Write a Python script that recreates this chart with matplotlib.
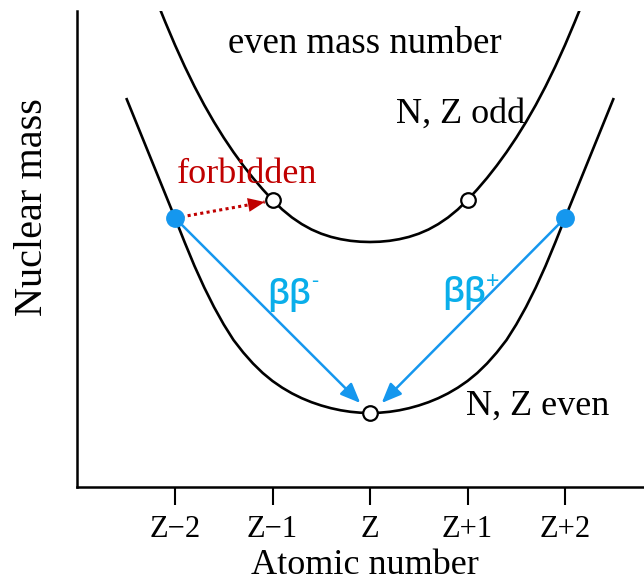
import matplotlib
matplotlib.use("Agg")
import matplotlib.pyplot as plt

# ---------------- data ----------------
tick_pos = [-2, -1, 0, 1, 2]
tick_labels = ["Z\u22122", "Z\u22121", "Z", "Z+1", "Z+2"]

# even-even parabola (N, Z even)
even_z = [-2.5, -2.4, -2.3, -2.2, -2.1, -2.0, -1.9, -1.8, -1.7, -1.6, -1.5,
          -1.4, -1.3, -1.2, -1.1, -1.0, -0.9, -0.8, -0.7, -0.6, -0.5, -0.4,
          -0.3, -0.2, -0.1, 0.0, 0.1, 0.2, 0.3, 0.4, 0.5, 0.6, 0.7, 0.8, 0.9,
          1.0, 1.1, 1.2, 1.3, 1.4, 1.5, 1.6, 1.7, 1.8, 1.9, 2.0, 2.1, 2.2,
          2.3, 2.4, 2.5]
even_m = [3.89, 3.65, 3.41, 3.17, 2.93, 2.69, 2.445, 2.21, 1.995, 1.80, 1.625,
          1.47, 1.345, 1.235, 1.14, 1.06, 0.993, 0.936, 0.888, 0.848, 0.815,
          0.788, 0.767, 0.752, 0.743, 0.74, 0.743, 0.752, 0.767, 0.788, 0.815,
          0.848, 0.888, 0.936, 0.993, 1.06, 1.14, 1.235, 1.345, 1.47, 1.625,
          1.80, 1.995, 2.21, 2.445, 2.69, 2.93, 3.17, 3.41, 3.65, 3.89]

# odd-odd parabola (N, Z odd)
odd_z = [-2.15, -2.1, -2.0, -1.9, -1.8, -1.7, -1.6, -1.5, -1.4, -1.3, -1.2,
         -1.1, -1.0, -0.9, -0.8, -0.7, -0.6, -0.5, -0.4, -0.3, -0.2, -0.1,
         0.0, 0.1, 0.2, 0.3, 0.4, 0.5, 0.6, 0.7, 0.8, 0.9, 1.0, 1.1, 1.2,
         1.3, 1.4, 1.5, 1.6, 1.7, 1.8, 1.9, 2.0, 2.1, 2.15]
odd_m = [4.77, 4.65, 4.42, 4.205, 4.005, 3.82, 3.65, 3.493, 3.348, 3.214,
         3.09, 2.976, 2.87, 2.775, 2.695, 2.629, 2.575, 2.533, 2.501, 2.478,
         2.462, 2.453, 2.45, 2.453, 2.462, 2.478, 2.501, 2.533, 2.575, 2.629,
         2.695, 2.775, 2.87, 2.976, 3.09, 3.214, 3.348, 3.493, 3.65, 3.82,
         4.005, 4.205, 4.42, 4.65, 4.77]

# nuclides marked on the curves
open_z = [-1, 1, 0]
open_m = [2.87, 2.87, 0.74]
filled_z = [-2, 2]
filled_m = [2.69, 2.69]

# decay arrows: (start Z, start M) -> (end Z, end M)
bb_minus = ((-2, 2.69), (-0.10, 0.84))
bb_plus = ((2, 2.69), (0.12, 0.84))
forbidden = ((-2, 2.69), (-1.08, 2.85))

# ---------------- figure ----------------
W, H, DPI = 644, 584, 100
fig = plt.figure(figsize=(W / DPI, H / DPI), dpi=DPI)
ax = fig.add_axes([77 / W, (584 - 487) / H, (644 - 77) / W, (487 - 11) / H])
ax.set_xlim(-3.005, 2.81)
ax.set_ylim(0, 4.76)

serif = "Liberation Serif"
sans = ["Open Sans", "DejaVu Sans"]
black = "black"
blue = "#1597ee"
blue_txt = "#0aaeea"
red = "#c00000"

ax.plot(even_z, even_m, color=black, lw=1.9, solid_capstyle="butt",
        solid_joinstyle="round", zorder=2)
ax.plot(odd_z, odd_m, color=black, lw=1.9, solid_capstyle="butt",
        solid_joinstyle="round", zorder=2)

# arrows
for (s, e) in (bb_minus, bb_plus):
    ax.annotate("", xy=e, xytext=s,
                arrowprops=dict(arrowstyle="-|>,head_length=0.6,head_width=0.25",
                                color=blue, lw=1.8, mutation_scale=20,
                                shrinkA=0, shrinkB=0), zorder=3)

(fs, fe) = forbidden
ax.plot([fs[0], fe[0]], [fs[1], fe[1]], color=red, lw=2.2,
        linestyle=(0, (1, 1.1)), zorder=3)
ax.annotate("", xy=fe, xytext=(fe[0] - 0.15, fe[1] - 0.026),
            arrowprops=dict(arrowstyle="-|>,head_length=0.6,head_width=0.25",
                            color=red, lw=0.01, mutation_scale=20,
                            shrinkA=0, shrinkB=0), zorder=3)

ax.plot(open_z, open_m, linestyle="none", marker="o", markersize=10.5,
        markerfacecolor="white", markeredgecolor=black, markeredgewidth=1.6,
        zorder=5)
ax.plot(filled_z, filled_m, linestyle="none", marker="o", markersize=12.5,
        markerfacecolor=blue, markeredgecolor=blue, zorder=5)

# spines and ticks
for side in ("top", "right"):
    ax.spines[side].set_visible(False)
for side in ("left", "bottom"):
    ax.spines[side].set_linewidth(1.8)
ax.set_yticks([])
ax.set_xticks(tick_pos)
ax.set_xticklabels(tick_labels, fontfamily=serif, fontsize=22)
ax.tick_params(axis="x", which="major", direction="out", length=13,
               width=1.5, pad=7)
ax.set_xticks(tick_pos, minor=True)
ax.tick_params(axis="x", which="minor", direction="in", length=6.5, width=1.5)

# texts
ax.text(-0.05, 4.34, "even mass number", fontfamily=serif, fontsize=26.5,
        ha="center", va="baseline")
ax.text(0.93, 3.64, "N, Z odd", fontfamily=serif, fontsize=26,
        ha="center", va="baseline")
ax.text(1.72, 0.72, "N, Z even", fontfamily=serif, fontsize=26,
        ha="center", va="baseline")
ax.text(-1.26, 3.04, "forbidden", fontfamily=serif, fontsize=26,
        color=red, ha="center", va="baseline")

ax.text(-1.056, 1.83, "\u03b2\u03b2", fontfamily=sans, fontsize=24.5,
        color=blue_txt, ha="left", va="baseline", fontweight="semibold")
ax.text(-0.60, 2.00, "-", fontfamily=sans, fontsize=16,
        color=blue_txt, ha="left", va="baseline")
ax.text(0.738, 1.85, "\u03b2\u03b2", fontfamily=sans, fontsize=24.5,
        color=blue_txt, ha="left", va="baseline", fontweight="semibold")
ax.text(1.19, 1.98, "+", fontfamily=sans, fontsize=17,
        color=blue_txt, ha="left", va="baseline")

fig.text(365 / W, 1 - 566 / H, "Atomic number", fontfamily=serif,
         fontsize=26, ha="center", va="center")
fig.text(33 / W, 1 - 207 / H, "Nuclear mass", fontfamily=serif,
         fontsize=29, ha="center", va="center", rotation=90)

fig.savefig("out.png", dpi=DPI)
